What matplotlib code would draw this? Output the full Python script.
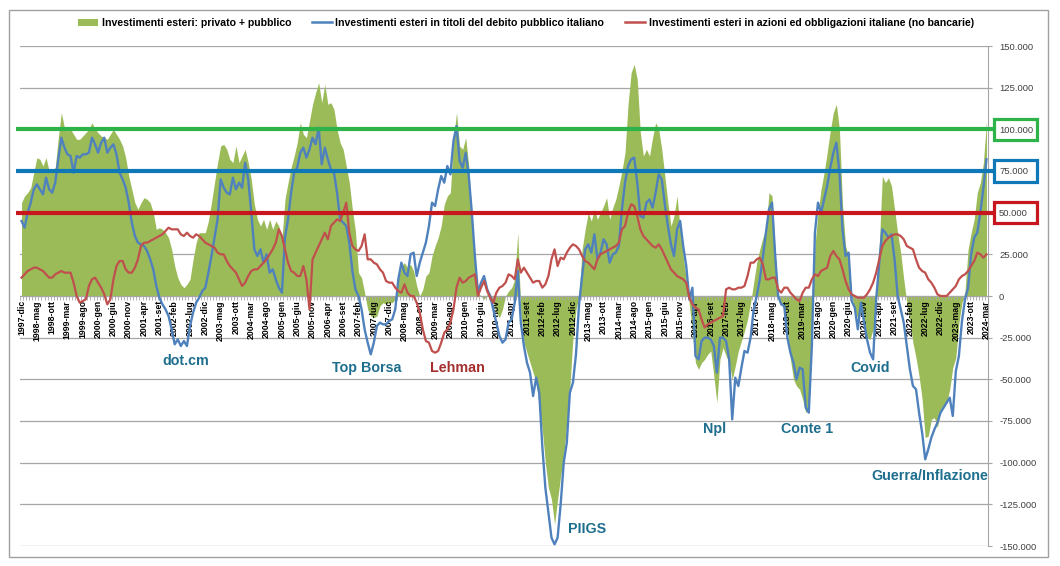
"""
Investimenti esteri in Italia: privato + pubblico, titoli di Stato, azioni/obbligazioni.
Serie mensili (migliaia -> etichette in unità), dic-1997 .. mar-2024.
"""

import numpy as np
import matplotlib
matplotlib.use("Agg")
import matplotlib.pyplot as plt
from matplotlib.patches import Patch, Rectangle
from matplotlib.lines import Line2D

plt.rcParams["font.family"] = ["Liberation Sans", "DejaVu Sans"]

# ── Dati (migliaia), un anno per riga, primo punto = 1997-dic ─────────
PRIVATO_PUBBLICO = (
    [56]
    + [60, 62, 65, 74, 83, 82, 78, 83, 75, 76, 77, 95]            # 1998
    + [110, 101, 99, 100, 97, 94, 94, 96, 98, 100, 104, 100]      # 1999
    + [98, 96, 95, 94, 97, 100, 97, 94, 90, 83, 72, 64]           # 2000
    + [56, 52, 56, 59, 58, 56, 50, 40, 41, 40, 38, 35]            # 2001
    + [28, 18, 11, 7, 5, 7, 10, 22, 32, 38, 38, 38]               # 2002
    + [45, 56, 68, 80, 90, 91, 88, 82, 80, 90, 80, 84]            # 2003
    + [88, 80, 70, 55, 46, 42, 46, 40, 46, 40, 45, 42]            # 2004
    + [34, 58, 68, 77, 84, 92, 104, 97, 95, 105, 115, 122]        # 2005
    + [128, 116, 127, 115, 116, 112, 100, 92, 88, 78, 68, 52]     # 2006
    + [39, 14, 11, 2, -8, -12, -13, -12, -6, -4, -5, -4]          # 2007
    + [-4, -2, 10, 18, 20, 17, 19, 15, 6, 0, 4, 12]               # 2008
    + [14, 24, 30, 35, 42, 55, 60, 62, 94, 110, 90, 88]           # 2009
    + [95, 78, 48, 18, 2, 0, -2, 1, -1, -4, -10, -13]             # 2010
    + [-8, 0, 3, 5, 10, 38, -10, -28, -34, -40, -46, -52]         # 2011
    + [-66, -80, -100, -115, -122, -137, -122, -108, -96, -76, -55, -25]  # 2012
    + [-8, 0, 28, 40, 50, 45, 52, 46, 50, 54, 59, 46]             # 2013
    + [53, 58, 66, 75, 86, 115, 134, 139, 130, 98, 84, 88]        # 2014
    + [84, 95, 104, 100, 88, 72, 56, 42, 48, 60, 40, 24]          # 2015
    + [10, -5, -22, -40, -44, -40, -38, -35, -33, -48, -64, -38]   # 2016
    + [-31, -36, -40, -50, -42, -33, -27, -21, -14, -4, 8, 20]    # 2017
    + [28, 35, 40, 62, 60, 28, 0, -5, -8, -20, -38, -50]          # 2018
    + [-54, -56, -62, -70, -66, -20, 30, 50, 64, 74, 86, 99]      # 2019
    + [110, 115, 100, 55, 30, 24, 0, -8, -14, -10, -18, -25]      # 2020
    + [-26, -20, -4, 30, 72, 68, 71, 66, 52, 38, 26, 10]          # 2021
    + [-4, -15, -28, -37, -48, -62, -85, -84, -74, -73, -79, -68] # 2022
    + [-66, -64, -56, -43, -37, -16, -4, 3, 28, 38, 46, 62]       # 2023
    + [68, 80, 105]                                               # 2024
)

TITOLI_DEBITO = (
    [45]
    + [41, 50, 56, 64, 67, 64, 61, 71, 64, 62, 68, 82]            # 1998
    + [95, 89, 85, 84, 74, 84, 83, 85, 85, 86, 95, 91]            # 1999
    + [86, 92, 95, 86, 89, 91, 85, 74, 70, 65, 56, 44]            # 2000
    + [36, 32, 31, 30, 27, 22, 16, 6, -1, -5, -8, -12]            # 2001
    + [-20, -29, -26, -30, -27, -30, -18, -10, -4, -1, 3, 5]      # 2002
    + [14, 24, 35, 46, 70, 65, 62, 61, 71, 64, 68, 65]            # 2003
    + [80, 70, 50, 28, 24, 28, 20, 25, 14, 16, 10, 5]             # 2004
    + [2, 35, 46, 62, 74, 77, 86, 89, 83, 88, 95, 91]             # 2005
    + [101, 79, 89, 82, 76, 74, 62, 46, 44, 42, 32, 15]           # 2006
    + [4, 0, -8, -20, -28, -35, -28, -18, -16, -17, -17, -15]     # 2007
    + [-14, -8, 10, 20, 14, 12, 25, 26, 12, 20, 26, 32]           # 2008
    + [42, 56, 54, 64, 72, 68, 78, 73, 93, 102, 81, 77]           # 2009
    + [86, 72, 50, 24, 2, 8, 12, 4, 0, -8, -16, -24]              # 2010
    + [-28, -26, -16, -14, -4, 15, -16, -30, -40, -46, -60, -49]  # 2011
    + [-58, -90, -115, -130, -145, -149, -145, -125, -100, -88, -58, -52]  # 2012
    + [-35, -5, 12, 28, 31, 26, 37, 22, 26, 34, 31, 20]           # 2013
    + [25, 26, 30, 52, 68, 78, 82, 83, 68, 48, 47, 56]            # 2014
    + [58, 53, 62, 73, 70, 55, 42, 31, 24, 40, 45, 30]            # 2015
    + [18, -2, 5, -36, -38, -27, -25, -25, -26, -30, -46, -25]    # 2016
    + [-25, -27, -38, -74, -49, -54, -43, -33, -34, -25, -8, 0]   # 2017
    + [10, 23, 38, 52, 56, 25, 0, -5, -6, -25, -34, -40]          # 2018
    + [-50, -43, -44, -67, -70, -30, 38, 56, 50, 58, 66, 77]      # 2019
    + [86, 92, 74, 40, 24, 26, -3, -7, -20, -4, -15, -26]         # 2020
    + [-34, -38, -2, 20, 40, 38, 35, 37, 22, 0, -8, -16]          # 2021
    + [-30, -44, -54, -56, -70, -82, -98, -92, -85, -80, -76, -70]  # 2022
    + [-67, -64, -61, -72, -45, -36, -15, -2, 5, 25, 35, 38]      # 2023
    + [50, 65, 82]                                                # 2024
)

AZIONI_OBBLIGAZIONI = (
    [11]
    + [13, 15, 16, 17, 17, 16, 15, 13, 11, 11, 13, 14]            # 1998
    + [15, 14, 14, 14, 8, 0, -4, -3, -2, 6, 10, 11]               # 1999
    + [8, 5, 1, -5, -2, 10, 18, 21, 21, 16, 14, 14]               # 2000
    + [17, 22, 30, 32, 32, 33, 34, 35, 36, 37, 39, 41]            # 2001
    + [40, 40, 40, 37, 36, 38, 36, 35, 37, 36, 34, 32]            # 2002
    + [31, 30, 29, 26, 25, 25, 21, 18, 16, 14, 10, 6]             # 2003
    + [8, 12, 15, 16, 16, 18, 20, 22, 25, 28, 32, 40]             # 2004
    + [36, 28, 20, 15, 14, 12, 12, 18, 10, -8, 22, 26]            # 2005
    + [30, 34, 38, 34, 42, 44, 46, 45, 50, 56, 38, 30]            # 2006
    + [28, 27, 30, 37, 22, 22, 20, 19, 16, 14, 9, 8]              # 2007
    + [8, 5, 3, 2, 7, 2, 0, 0, -4, -10, -20, -27]                 # 2008
    + [-28, -33, -34, -33, -28, -22, -20, -16, -8, 5, 11, 8]      # 2009
    + [9, 11, 12, 13, 0, 5, 9, 3, -1, -4, 2, 5]                   # 2010
    + [6, 8, 13, 12, 10, 22, 14, 17, 14, 11, 8, 9]                # 2011
    + [9, 5, 7, 12, 22, 28, 18, 23, 22, 26, 29, 31]               # 2012
    + [30, 28, 24, 21, 20, 18, 16, 22, 25, 26, 27, 28]            # 2013
    + [29, 30, 32, 40, 42, 50, 55, 54, 48, 40, 36, 34]            # 2014
    + [32, 30, 29, 31, 28, 24, 20, 16, 14, 12, 11, 10]            # 2015
    + [8, -1, -5, -7, -8, -14, -19, -17, -16, -15, -14, -13]      # 2016
    + [-12, 4, 5, 4, 4, 5, 5, 6, 12, 20, 20, 22]                  # 2017
    + [23, 19, 10, 10, 11, 11, 4, 2, 5, 5, 2, 0]                  # 2018
    + [-2, -3, 2, 5, 5, 10, 13, 12, 15, 16, 17, 24]               # 2019
    + [27, 24, 22, 16, 9, 4, 1, 0, -1, -1, -1, 1]                 # 2020
    + [4, 8, 14, 22, 30, 33, 35, 36, 37, 37, 36, 34]              # 2021
    + [30, 29, 28, 22, 17, 15, 14, 10, 8, 5, 1, 0]                # 2022
    + [0, 0, 2, 4, 6, 10, 12, 13, 15, 18, 21, 26]                 # 2023
    + [25, 23, 25]                                                # 2024
)

MESI = ["gen", "feb", "mar", "apr", "mag", "giu",
        "lug", "ago", "set", "ott", "nov", "dic"]
ANNO_INIZIO, MESE_INIZIO = 1997, 12
PASSO_ETICHETTE = 5

SOGLIE = [100, 75, 50]
COLORI_SOGLIE = ["#2DB34A", "#0E79B6", "#C8161E"]

EVENTI = ["dot.cm", "Top Borsa", "Lehman", "PIIGS", "Npl", "Conte 1",
          "Covid", "Guerra/Inflazione"]
EVENTI_X = [53.7, 112.8, 142.2, 184.6, 226.4, 256.4, 277.0, 296.6]
EVENTI_Y = [-39, -43, -43, -140, -80, -80, -43, -108]
EVENTI_COL = ["#1E6E8E", "#1E6E8E", "#A3302F", "#1E6E8E", "#1E6E8E",
              "#1E6E8E", "#1E6E8E", "#1E6E8E"]

GREEN, BLUE, RED = "#9BBB59", "#4F81BD", "#C0504D"
GRID = "#A6A6A6"


def month_labels(n):
    out = []
    y, m = ANNO_INIZIO, MESE_INIZIO
    for _ in range(n):
        out.append(f"{y}-{MESI[m - 1]}")
        m += 1
        if m > 12:
            m, y = 1, y + 1
    return out


def fmt_it(v):
    return f"{int(round(v * 1000)):,}".replace(",", ".")


def main() -> None:
    g = np.array(PRIVATO_PUBBLICO, dtype=float)
    b = np.array(TITOLI_DEBITO, dtype=float)
    r = np.array(AZIONI_OBBLIGAZIONI, dtype=float)
    n = len(g)
    x = np.arange(n)
    labels = month_labels(n)

    fig = plt.figure(figsize=(10.6, 5.66), dpi=100)
    ax = fig.add_axes([20 / 1060, 1 - 546 / 566, 968 / 1060, 500 / 566])

    yt = np.arange(-150, 151, 25)

    # griglia sotto l'area, etichette dell'asse sopra
    for v in yt:
        ax.axhline(v, color=GRID, lw=0.9, zorder=1)

    # ── serie ─────────────────────────────────────────────────────
    ax.fill_between(x, 0, g, color=GREEN, lw=0, zorder=2)
    ax.plot(x, b, color=BLUE, lw=1.7, zorder=3)
    ax.plot(x, r, color=RED, lw=1.6, zorder=3)

    ax.set_xlim(-0.5, n - 0.5)
    ax.set_ylim(-150, 150)

    # ── soglie con etichetta incorniciata ─────────────────────────
    ytr = ax.get_yaxis_transform()
    for v, c in zip(SOGLIE, COLORI_SOGLIE):
        ax.plot([-0.004, 1.0062], [v, v], color=c, lw=3.0, transform=ytr,
                clip_on=False, zorder=5, solid_capstyle="butt")
        ax.add_patch(Rectangle((1.0062, v - 6.4), 0.0444, 12.8, transform=ytr,
                               fill=False, ec=c, lw=2.3, clip_on=False, zorder=6))

    # ── assi ──────────────────────────────────────────────────────
    ax.set_axisbelow(False)
    for s in ["top", "left"]:
        ax.spines[s].set_visible(False)
    ax.spines["bottom"].set_position(("data", 0))
    ax.spines["bottom"].set_color(GRID)
    ax.spines["right"].set_color(GRID)

    ticks = x[::PASSO_ETICHETTE]
    ax.set_xticks(ticks)
    ax.set_xticklabels([labels[i] for i in ticks], rotation=90,
                       fontsize=6.3, fontweight="bold")
    ax.set_xticks(np.arange(-0.5, n, 1), minor=True)
    ax.tick_params(axis="x", which="major", length=0, pad=3)
    ax.tick_params(axis="x", which="minor", length=3, color=GRID, width=0.6)

    ax.yaxis.tick_right()
    ax.set_yticks(yt)
    ax.set_yticklabels([fmt_it(v) for v in yt])
    ax.tick_params(axis="y", length=3, color=GRID, labelsize=6.8,
                   labelcolor="#404040", pad=5)

    # ── eventi ────────────────────────────────────────────────────
    for t, ex, ey, c in zip(EVENTI, EVENTI_X, EVENTI_Y, EVENTI_COL):
        ax.text(ex, ey, t, color=c, fontsize=10.3, fontweight="bold",
                ha="center", va="center", zorder=7)

    # ── legenda ───────────────────────────────────────────────────
    handles = [
        Patch(facecolor=GREEN, edgecolor="none"),
        Line2D([], [], color=BLUE, lw=1.8),
        Line2D([], [], color=RED, lw=1.8),
    ]
    names = [
        "Investimenti esteri: privato + pubblico",
        "Investimenti esteri in titoli del debito pubblico italiano",
        "Investimenti esteri in azioni ed obbligazioni italiane (no bancarie)",
    ]
    fig.legend(handles, names, loc="center", ncol=3, frameon=False,
               bbox_to_anchor=(526 / 1060, 1 - 23 / 566),
               prop={"size": 7.6, "weight": "bold"},
               handlelength=1.9, handleheight=0.6, handletextpad=0.3,
               columnspacing=2.0)

    # cornice esterna
    fig.add_artist(Rectangle((9 / 1060, 1 - 557 / 566), 1039 / 1060, 547 / 566,
                             transform=fig.transFigure, fill=False,
                             ec="#A0A0A0", lw=1))

    fig.savefig("out.png", dpi=100)


if __name__ == "__main__":
    main()
